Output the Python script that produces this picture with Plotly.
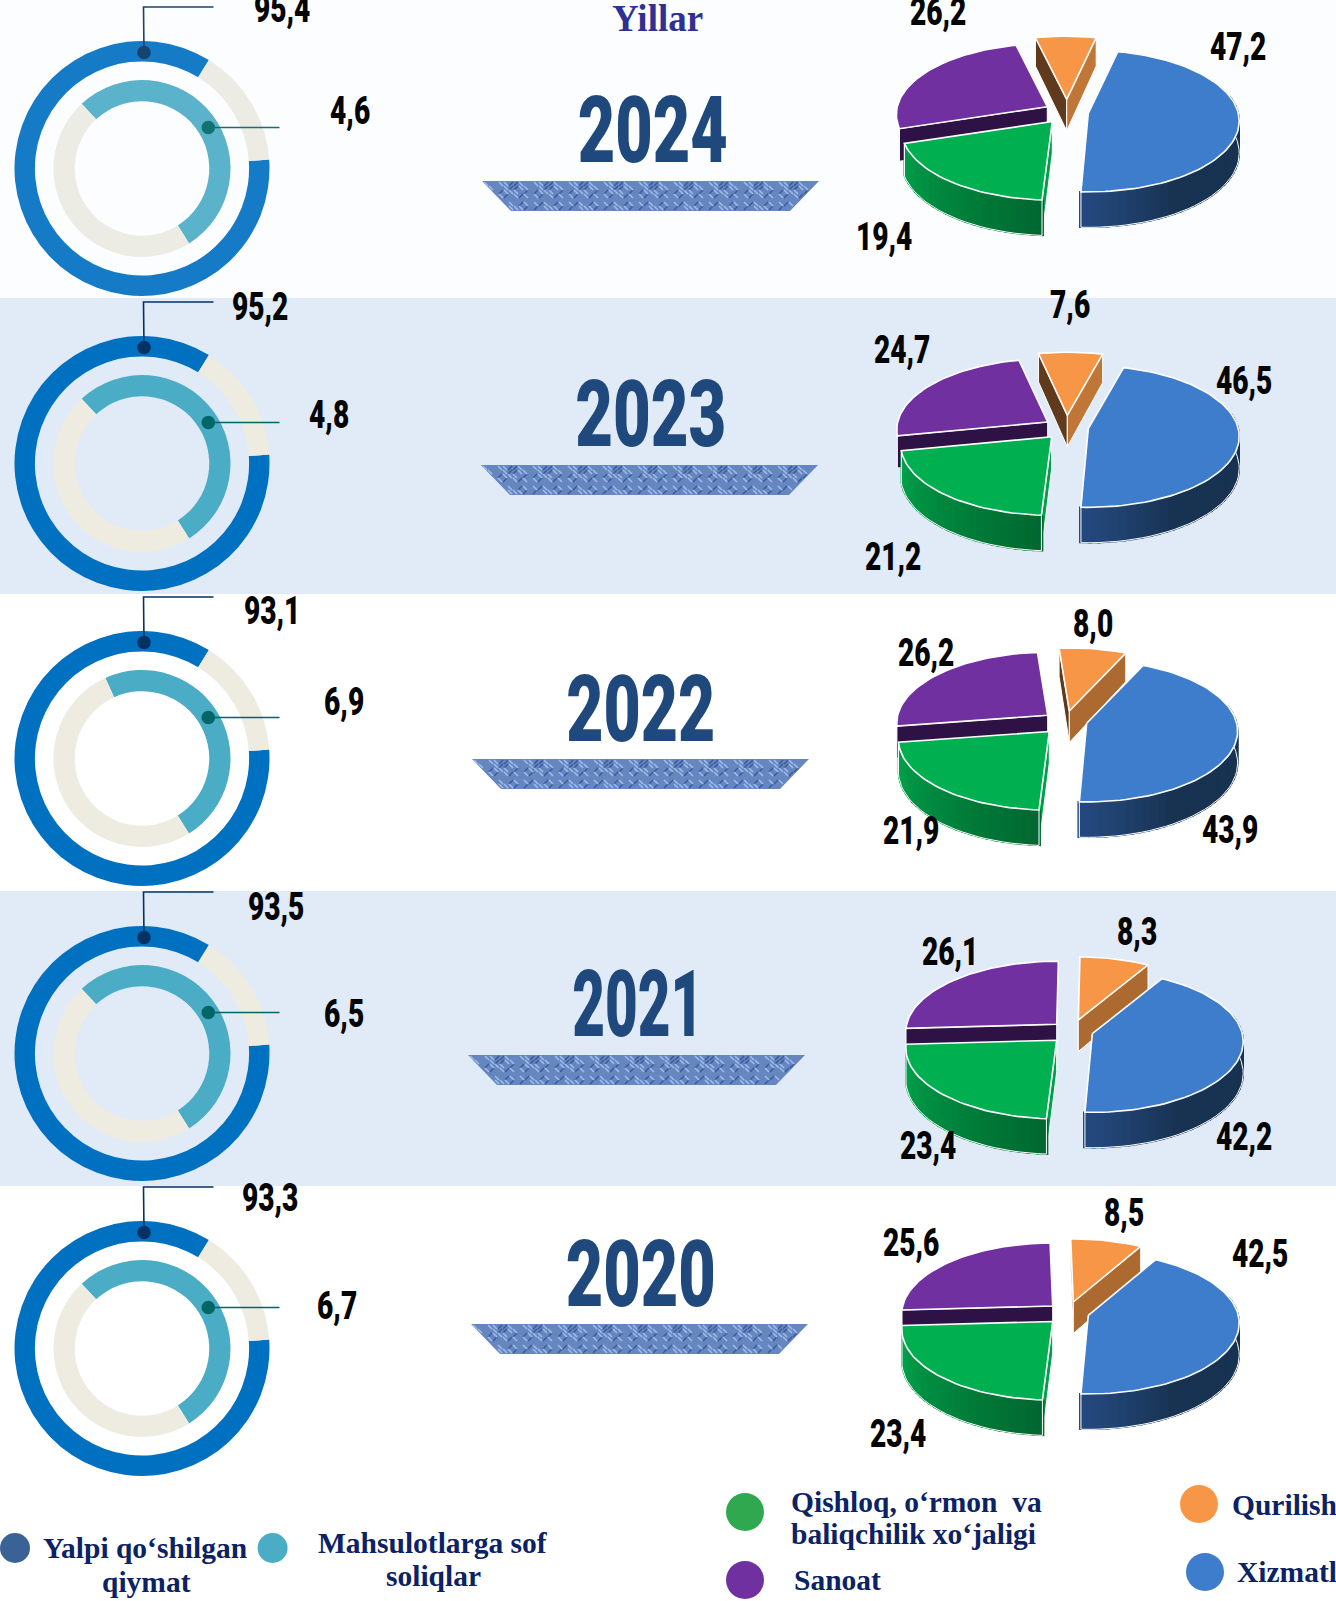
import json
import math
import plotly.graph_objects as go

# ---------- data ----------
years = [2024, 2023, 2022, 2021, 2020]
value_added = [95.4, 95.2, 93.1, 93.5, 93.3]
net_taxes = [4.6, 4.8, 6.9, 6.5, 6.7]
services = [47.2, 46.5, 43.9, 42.2, 42.5]
agriculture = [19.4, 21.2, 21.9, 23.4, 23.4]
industry = [26.2, 24.7, 26.2, 26.1, 25.6]
construction = [7.2, 7.6, 8.0, 8.3, 8.5]
construction_label_shown = [False, True, True, True, True]

# the rings in the picture are decorative: their drawn arcs (share of circle)
outer_ring_arc = [84.9, 84.9, 84.9, 84.9, 84.9]
inner_ring_arc = [53.0, 53.0, 47.9, 53.0, 53.0]
inner_ring_start = [-43, -43, -24.5, -43, -43]

legend_left = ["Yalpi qo‘shilgan", "qiymat", "Mahsulotlarga sof", "soliqlar"]
legend_right = ["Qishloq, o‘rmon  va", "baliqchilik xo‘jaligi", "Sanoat", "Qurilish", "Xizmatlar"]

# ---------- layout (pixels) ----------
W, H = 1336, 1601
ring_cy = [168.5, 463.5, 758.5, 1053.5, 1348.5]
ring_cx = 142.0
dot_cx = 141.5
year_xy = [(652, 130), (650, 414), (640, 709), (637, 1004), (640, 1274)]
year_width = [150, 151, 149, 131, 150]
band_xy = [(482, 181), (481, 465), (472, 759), (468, 1055), (471, 1324)]
gva_label_xy = [(282, 9), (260, 307), (272, 611), (276, 907), (270, 1198)]
tax_label_xy = [(350, 111), (329, 415), (344, 702), (344, 1014), (337, 1306)]
svc_label_xy = [(1238, 47), (1244, 381), (1230, 830), (1244, 1137), (1260, 1254)]
agr_label_xy = [(883.5, 237), (893, 557), (911, 831), (928, 1146), (898, 1434)]
ind_label_xy = [(938, 12), (902, 350), (926, 653), (950, 952), (911, 1243)]
con_label_xy = [None, (1070, 305), (1093, 624), (1137, 931.5), (1123.5, 1213)]

apex_blue = [(1088.3, 113.3), (1088.3, 428.7), (1086.7, 723.3), (1092.3, 1033.7), (1088.3, 1315.3)]
apex_green = [(1052.3, 121.5), (1051.7, 436.8), (1049.3, 731.5), (1056.7, 1040.2), (1052.7, 1321.5)]
apex_purple = [(1047.3, 106.7), (1047.7, 422), (1047.7, 715.3), (1056.7, 1024.3), (1052.7, 1306)]
apex_orange = [(1066.7, 99.3), (1067.3, 415.3), (1069.3, 711), (1078.3, 1020), (1073.3, 1302)]

RX, RY, PERSP, DEPTH = 150, 70, 0.11, 31.5
BLUE_END = 182.5
LABEL_FONT = dict(family="Roboto", size=38, color="#050505", weight=900)
YEAR_FONT = dict(family="Roboto", size=92, color="#1F497D", weight=900)
LEG_FONT = dict(family="Liberation Serif", size=29.5, color="#0B2265", weight=700)

fig = go.Figure()
shapes, annotations = [], []


def text(x, y, s, font, anchor="center"):
    annotations.append(dict(x=x, y=y, xref="x", yref="y", text=s, showarrow=False, font=font,
                            xanchor=anchor, yanchor="middle", align=anchor))


def fmt(v):
    return f"{v:.1f}".replace(".", ",")


def poly(pts, fill, line="rgba(0,0,0,0)", width=0.0):
    xs = [p[0] for p in pts] + [pts[0][0]]
    ys = [p[1] for p in pts] + [pts[0][1]]
    fig.add_trace(go.Scatter(x=xs, y=ys, mode="lines", fill="toself", fillcolor=fill,
                             line=dict(color=line, width=width), hoverinfo="skip", showlegend=False))


def outline(pts, color="#FFFFFF", width=1.0):
    fig.add_trace(go.Scatter(x=[p[0] for p in pts], y=[p[1] for p in pts], mode="lines",
                             line=dict(color=color, width=width), hoverinfo="skip", showlegend=False))


def proj(c, theta, r=1.0, z=0.0):
    t = math.radians(theta)
    u, v = r * math.sin(t), -r * math.cos(t)
    s = 1 / (1 - PERSP * v)
    return c[0] + RX * u * s, c[1] + RY * v * s + DEPTH * z * s


def mix(a, b, f):
    f = max(0, min(1, f))
    return "rgb(%d,%d,%d)" % tuple(round(a[i] + (b[i] - a[i]) * f) for i in range(3))


def wedge(c, a0, a1, top, wall, wall_flat, rad0, rad1):
    """one exploded 3-D slice, clockwise from a0 to a1 (degrees from 12 o'clock)"""
    for ang, col in ((a0, rad0), (a1, rad1)):
        if col:
            poly([proj(c, 0, 0), proj(c, ang), proj(c, ang, 1, 1), proj(c, 0, 0, 1)], col, "#FFFFFF", 1.0)
    if wall:
        lo, hi = max(a0, 75), min(a1, 285)
        n = max(1, int((hi - lo) / 3))
        step = (hi - lo) / n
        for i in range(n):
            s0, s1 = lo + i * step, lo + (i + 1) * step
            f = abs((s0 + s1) / 2 - 180) / wall_flat
            col = mix(wall[0], wall[1], f)
            poly([proj(c, s0 - 0.4), proj(c, s1 + 0.4), proj(c, s1 + 0.4, 1, 1), proj(c, s0 - 0.4, 1, 1)],
                 col, col, 1.5)
        steps = [lo + i * step for i in range(n + 1)]
        outline([proj(c, steps[0])] + [proj(c, a, 1, 1) for a in steps] + [proj(c, steps[-1])], "#FFFFFF", 1.0)
    n = max(2, int((a1 - a0) / 2))
    arc = [proj(c, a0 + (a1 - a0) * i / n) for i in range(n + 1)]
    poly([proj(c, 0, 0)] + arc, top, "#FFFFFF", 1.6)


def texture_band(x0, y0):
    tw, th, inset = 337, 30, 29
    poly([(x0, y0), (x0 + tw, y0), (x0 + tw - inset, y0 + th), (x0 + inset, y0 + th)], "#6686C0")
    inside = lambda x, y: y0 <= y <= y0 + th and x0 + inset * (y - y0) / th <= x <= x0 + tw - inset * (y - y0) / th
    lx, ly, dx, dy = [], [], [], []
    for j, y in enumerate(range(y0 + 1, y0 + th, 4)):
        for i, x in enumerate(range(x0 + 2, x0 + tw, 5)):
            k = (i * 3 + j * 5 + i * j) % 7
            if k in (0, 2, 5) and inside(x, y) and inside(x + 4, y + 4):
                lx += [x, x + 4, None]
                ly += [y, y + 4, None]
            elif k in (1, 4) and inside(x + 4, y) and inside(x, y + 4):
                dx += [x + 4, x, None]
                dy += [y, y + 4, None]
    fig.add_trace(go.Scatter(x=dx, y=dy, mode="lines", line=dict(color="#3B5C9C", width=1.6),
                             hoverinfo="skip", showlegend=False))
    fig.add_trace(go.Scatter(x=lx, y=ly, mode="lines", line=dict(color="#9FBCE9", width=1.6),
                             hoverinfo="skip", showlegend=False))


def ring(cy, R, hole, vals, rot, cols):
    fig.add_trace(go.Pie(values=vals, rotation=rot, direction="clockwise", sort=False, hole=hole,
                         marker=dict(colors=cols, line=dict(width=0)), textinfo="none", hoverinfo="skip",
                         showlegend=False,
                         domain=dict(x=[(ring_cx - R) / W, (ring_cx + R) / W],
                                     y=[1 - (cy + R) / H, 1 - (cy - R) / H])))


# bands
shapes.append(dict(type="rect", xref="x", yref="y", x0=0, x1=W, y0=0, y1=298, fillcolor="#FBFDFF",
                   line_width=0, layer="below"))
for y0, y1 in ((298, 594), (891, 1186)):
    shapes.append(dict(type="rect", xref="x", yref="y", x0=0, x1=W, y0=y0, y1=y1, fillcolor="#E1EAF7",
                       line_width=0, layer="below"))

for k, yr in enumerate(years):
    # rings
    cy = ring_cy[k]
    blue = "#167BC6" if k == 0 else "#0070C0"
    teal = "#5BB2CB" if k == 0 else "#4BACC6"
    pale = "#ECECE4" if k == 0 else "#EEECE1"
    ring(cy, 127.5, 0.84, [outer_ring_arc[k], 100 - outer_ring_arc[k]], 86, [blue, pale])
    ring(cy, 88.5, 0.76, [inner_ring_arc[k], 100 - inner_ring_arc[k]], inner_ring_start[k], [teal, pale])
    navy = "#17436F" if k == 0 else "#053264"
    dteal = "#127272" if k == 0 else "#006666"
    shapes.append(dict(type="path", xref="x", yref="y", layer="above",
                       path=f"M {dot_cx + 2.5} {cy - 116} L {dot_cx + 2} {cy - 161.5} L {dot_cx + 72} {cy - 161.5}",
                       line=dict(color=navy, width=1.6)))
    shapes.append(dict(type="circle", xref="x", yref="y", layer="above", x0=dot_cx - 4.3, x1=dot_cx + 9.3,
                       y0=cy - 122.8, y1=cy - 109.2, fillcolor=navy, line_width=0))
    shapes.append(dict(type="line", xref="x", yref="y", layer="above", x0=dot_cx + 66, x1=dot_cx + 138,
                       y0=cy - 41, y1=cy - 41, line=dict(color=dteal, width=1.6)))
    shapes.append(dict(type="circle", xref="x", yref="y", layer="above", x0=dot_cx + 60, x1=dot_cx + 73.6,
                       y0=cy - 47.8, y1=cy - 34.2, fillcolor=dteal, line_width=0))
    text(*gva_label_xy[k], fmt(value_added[k]), LABEL_FONT)
    text(*tax_label_xy[k], fmt(net_taxes[k]), LABEL_FONT)

    # year + band
    text(*year_xy[k], str(yr), YEAR_FONT)
    texture_band(*band_xy[k])

    # 3-D pie: slice angles come from the shares
    a_b0 = BLUE_END - 3.6 * services[k]
    a_g1 = BLUE_END + 3.6 * agriculture[k]
    a_p1 = a_g1 + 3.6 * industry[k]
    a_o1 = a_p1 + 3.6 * construction[k]
    orange_side = "#C07636" if k < 2 else "#AD6A30"
    wedge(apex_purple[k], a_g1, a_p1, "#7030A0", None, 90, "#2F1245", None)
    wedge(apex_orange[k], a_p1, a_o1, "#F79646", None, 90, "#603A1C", orange_side)
    wedge(apex_green[k], BLUE_END + 1, a_g1, "#00AF50", ((0, 100, 46), (0, 160, 74)), 75, "#00A04A", None)
    wedge(apex_blue[k], a_b0, BLUE_END, "#3E7DCC", ((36, 73, 126), (24, 51, 82)), 30, None, None)

    text(*svc_label_xy[k], fmt(services[k]), LABEL_FONT)
    text(*agr_label_xy[k], fmt(agriculture[k]), LABEL_FONT)
    text(*ind_label_xy[k], fmt(industry[k]), LABEL_FONT)
    if construction_label_shown[k]:
        text(*con_label_xy[k], fmt(construction[k]), LABEL_FONT)

# title
text(657, 18, "Yillar", dict(family="Liberation Serif", size=37, color="#2E3192", weight=700))

# legend
for cx, cyy, r, col in ((15, 1548, 15, "#3B6296"), (272.6, 1548, 15, "#4BACC6"), (745, 1512, 19, "#2FA84F"),
                        (745, 1580, 19, "#7030A0"), (1199, 1504, 19, "#F79646"), (1205, 1572, 19, "#3E7DCC")):
    shapes.append(dict(type="circle", xref="x", yref="y", layer="above", x0=cx - r, x1=cx + r,
                       y0=cyy - r, y1=cyy + r, fillcolor=col, line_width=0))
text(145, 1548, legend_left[0], LEG_FONT)
text(146, 1582, legend_left[1], LEG_FONT)
text(433, 1543, legend_left[2], LEG_FONT)
text(433, 1576, legend_left[3], LEG_FONT)
text(789, 1502, legend_right[0], LEG_FONT, "left")
text(789, 1534, legend_right[1], LEG_FONT, "left")
text(792, 1580, legend_right[2], LEG_FONT, "left")
text(1230, 1505, legend_right[3], LEG_FONT, "left")
text(1235, 1572, legend_right[4], LEG_FONT, "left")

fig.update_layout(width=W, height=H, margin=dict(l=0, r=0, t=0, b=0), paper_bgcolor="#FFFFFF",
                  plot_bgcolor="#FFFFFF", showlegend=False, shapes=shapes, annotations=annotations,
                  xaxis=dict(range=[0, W], visible=False, fixedrange=True),
                  yaxis=dict(range=[H, 0], visible=False, fixedrange=True))

# narrow the numerals (real text, squeezed to the reference's condensed look)
widths = json.dumps({str(y): w for y, w in zip(years, year_width)})
post = """
document.body.style.margin='0';document.body.style.overflow='hidden';
(function(){
  var w=%s;
  function fit(){document.querySelectorAll('.annotation-text').forEach(function(t){
    var s=t.textContent;
    if(w[s]){t.setAttribute('textLength',w[s]);t.setAttribute('lengthAdjust','spacingAndGlyphs');}
    else if(/^[0-9]+,[0-9]$/.test(s)&&!t.getAttribute('textLength')){
      t.setAttribute('textLength',(t.getComputedTextLength()*0.74).toFixed(1));t.setAttribute('lengthAdjust','spacingAndGlyphs');}
  });}
  var gd=document.getElementById('{plot_id}');
  fit(); if(gd&&gd.on){gd.on('plotly_afterplot',fit);} setTimeout(fit,30); setTimeout(fit,300);
})();
""" % widths
fig.write_html("out.html", config={"displayModeBar": False}, post_script=post)
